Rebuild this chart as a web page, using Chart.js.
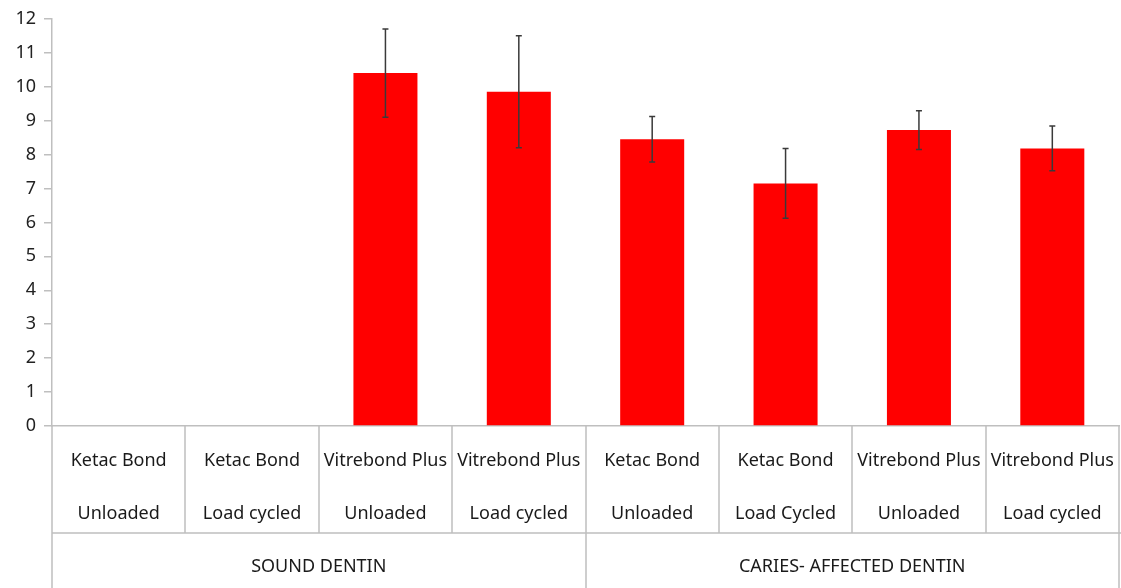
<!DOCTYPE html>
<html lang="en">
<head>
    <meta charset="UTF-8">
    <title>Bond Strength</title>
    <script src="https://cdn.jsdelivr.net/npm/chart.js"></script>
    <style>
        body { margin: 0; background: #fff; }
        #wrap { width: 1121px; height: 588px; }
    </style>
</head>
<body>
    <div id="wrap">
        <canvas id="barChart" width="1121" height="588"></canvas>
    </div>

    <script>
        // chart data
        const materials = ['Ketac Bond', 'Ketac Bond', 'Vitrebond Plus', 'Vitrebond Plus', 'Ketac Bond', 'Ketac Bond', 'Vitrebond Plus', 'Vitrebond Plus'];
        const conditions = ['Unloaded', 'Load cycled', 'Unloaded', 'Load cycled', 'Unloaded', 'Load Cycled', 'Unloaded', 'Load cycled'];
        const groups = ['SOUND DENTIN', 'CARIES- AFFECTED DENTIN'];
        const groupSize = [4, 4];
        const means = [null, null, 10.4, 9.85, 8.45, 7.15, 8.72, 8.18];
        const errors = [null, null, 1.3, 1.65, 0.67, 1.03, 0.57, 0.66];
        const yTicks = [0, 1, 2, 3, 4, 5, 6, 7, 8, 9, 10, 11, 12];

        const LINE = '#bfbfbf';
        const TEXT_FONT = '18px "Noto Sans", "Open Sans", sans-serif';

        // error bars on top of each bar
        const errorBars = {
            id: 'errorBars',
            afterDatasetsDraw(chart) {
                const ctx = chart.ctx;
                const y = chart.scales.y;
                const meta = chart.getDatasetMeta(0);
                ctx.save();
                ctx.strokeStyle = '#3a3a3a';
                ctx.lineWidth = 1.5;
                means.forEach((m, i) => {
                    if (m === null || errors[i] === null) return;
                    const x = meta.data[i].x;
                    const top = y.getPixelForValue(m + errors[i]);
                    const bot = y.getPixelForValue(m - errors[i]);
                    ctx.beginPath();
                    ctx.moveTo(x, top); ctx.lineTo(x, bot);
                    ctx.moveTo(x - 3, top); ctx.lineTo(x + 3, top);
                    ctx.moveTo(x - 3, bot); ctx.lineTo(x + 3, bot);
                    ctx.stroke();
                });
                ctx.restore();
            }
        };

        // table-style category axis below the plot
        const tableAxis = {
            id: 'tableAxis',
            afterDraw(chart) {
                const ctx = chart.ctx;
                const x = chart.scales.x;
                const area = chart.chartArea;
                const half = (x.getPixelForValue(1) - x.getPixelForValue(0)) / 2;
                const rowTop = area.bottom;
                const rowMid = rowTop + 107;
                const rowBot = chart.height;
                const edge = i => x.getPixelForValue(i) - half;

                ctx.save();
                ctx.strokeStyle = LINE;
                ctx.lineWidth = 1.5;
                ctx.beginPath();
                // category boundaries
                for (let i = 0; i <= materials.length; i++) {
                    const px = Math.round(edge(i));
                    ctx.moveTo(px, rowTop); ctx.lineTo(px, rowMid);
                }
                // group boundaries
                let start = 0;
                ctx.moveTo(Math.round(edge(0)), rowMid); ctx.lineTo(Math.round(edge(0)), rowBot);
                groupSize.forEach(n => {
                    start += n;
                    const px = Math.round(edge(start));
                    ctx.moveTo(px, rowMid); ctx.lineTo(px, rowBot);
                });
                ctx.moveTo(edge(0), rowMid); ctx.lineTo(chart.width, rowMid);
                ctx.stroke();

                ctx.fillStyle = '#1a1a1a';
                ctx.font = TEXT_FONT;
                ctx.textAlign = 'center';
                ctx.textBaseline = 'middle';
                materials.forEach((m, i) => {
                    const cx = x.getPixelForValue(i);
                    ctx.fillText(m, cx, rowTop + 35);
                    ctx.fillText(conditions[i], cx, rowTop + 88);
                });
                start = 0;
                groups.forEach((g, k) => {
                    const cx = (edge(start) + edge(start + groupSize[k])) / 2;
                    ctx.fillText(g, cx, rowMid + 34);
                    start += groupSize[k];
                });
                ctx.restore();
            }
        };

        new Chart(document.getElementById('barChart'), {
            type: 'bar',
            data: {
                labels: materials.map((m, i) => m + ' ' + conditions[i]),
                datasets: [{
                    data: means,
                    backgroundColor: '#ff0000',
                    borderWidth: 0,
                    categoryPercentage: 1,
                    barPercentage: 0.48
                }]
            },
            options: {
                responsive: false,
                animation: false,
                layout: { padding: { top: 5, right: 2, bottom: 162, left: 0 } },
                plugins: {
                    legend: { display: false },
                    tooltip: { enabled: false }
                },
                scales: {
                    x: {
                        grid: { display: false },
                        border: { color: LINE, width: 1.5 },
                        ticks: { display: false },
                        afterFit: s => { s.height = 0; }
                    },
                    y: {
                        min: 0,
                        max: 12,
                        afterBuildTicks: s => { s.ticks = yTicks.map(v => ({ value: v })); },
                        afterFit: s => { s.width = 52; },
                        grid: { drawOnChartArea: false, drawTicks: true, tickLength: 8, color: LINE, lineWidth: 1.5 },
                        border: { color: LINE, width: 1.5 },
                        ticks: {
                            padding: 8,
                            color: '#222',
                            font: { family: '"Noto Sans", sans-serif', size: 18 }
                        }
                    }
                }
            },
            plugins: [errorBars, tableAxis]
        });
    </script>
</body>
</html>
